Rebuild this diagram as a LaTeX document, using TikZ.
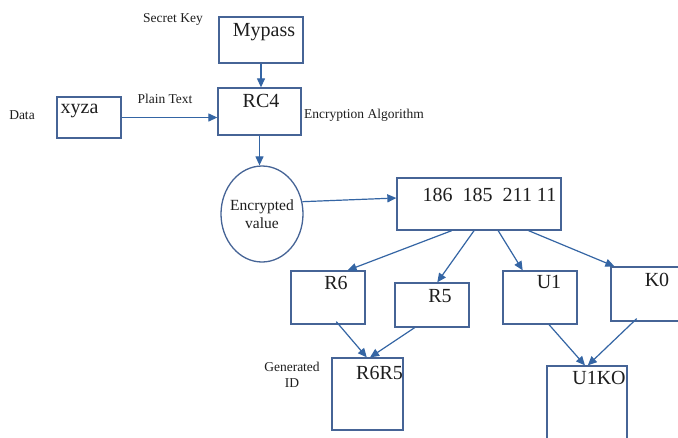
\documentclass[tikz,border=0pt]{standalone}
\usepackage{fontspec}
\setmainfont{Liberation Serif}
\usetikzlibrary{arrows.meta,shapes.geometric,calc}
\definecolor{edgeblue}{RGB}{70,100,150}
\definecolor{arrowblue}{RGB}{52,101,164}
\definecolor{inkgrey}{RGB}{30,30,30}
\begin{document}
\begin{tikzpicture}[x=1pt,y=-1pt,
  box/.style={draw=edgeblue,line width=1.3pt,inner sep=0pt},
  big/.style={text=inkgrey,inner sep=0pt,font=\fontsize{20}{22}\selectfont},
  small/.style={text=inkgrey,inner sep=0pt,align=center,font=\fontsize{13.5}{16}\selectfont},
  arr/.style={draw=arrowblue,line width=1.2pt,-{Triangle[length=9pt,width=8pt]}}]
\clip (0,0) rectangle (678,437);
\fill[white] (0,0) rectangle (678,437);

% boxes
\node[box,minimum width=84pt,minimum height=46pt] (myp) at (261,40) {};
\node[box,minimum width=83pt,minimum height=47pt] (rc4) at (259.5,111.5) {};
\node[box,minimum width=64pt,minimum height=41pt] (xy) at (89,117.5) {};
\node[box,ellipse,minimum width=82pt,minimum height=96pt] (enc) at (262,214) {};
\node[box,minimum width=164pt,minimum height=52pt] (num) at (479,204) {};
\node[box,minimum width=74pt,minimum height=53pt] (r6) at (328,297.5) {};
\node[box,minimum width=74pt,minimum height=44pt] (r5) at (432,305) {};
\node[box,minimum width=74pt,minimum height=53pt] (u1) at (540,297.5) {};
\node[box,minimum width=74pt,minimum height=54pt] (k0) at (648,294) {};
\node[box,minimum width=71pt,minimum height=72pt] (rr) at (367.5,394) {};
\node[box,minimum width=80pt,minimum height=84pt] (uk) at (587,408) {};

% texts inside the boxes
\node[big] (mypt) at (264,32) {Mypass};
\node[big] (rc4t) at (261,101) {RC4};
\node[big] (xyt) at (79.5,111) {xyza};
\node[small,font=\fontsize{15.5}{18}\selectfont] (enct) at (enc.center) {Encrypted\\value};
\node[big] (numt) at (489.5,195) {186\ \ 185\ \ 211 11};
\node[big] (r6t) at (336,283) {R6};
\node[big] (r5t) at (440,296) {R5};
\node[big] (u1t) at (549,282) {U1};
\node[big] (k0t) at (657,280) {K0};
\node[big] (rrt) at (379.5,373) {R6R5};
\node[big] (ukt) at (599,378) {U1KO};

% side labels
\node[small] (seckey) at (173,19) {Secret Key};
\node[small] (plain) at (165,99) {Plain Text};
\node[small] (data) at (22,115) {Data};
\node[small,anchor=west] (algo) at (304,115) {Encryption Algorithm};
\node[small] (genid) at (292,375) {Generated\\ID};

% connectors
\draw[arr] (myp.south) -- (myp.south |- rc4.north);
\draw[arr] (xy.east) -- (xy.east -| rc4.west);
\draw[arr] (rc4.south) -- (rc4.south |- enc.north);
\draw[arr] (enc.17) -- ($(num.west)+(0,-6)$);
\draw[arr] ($(num.south west)!0.335!(num.south east)$) -- ($(r6.north west)!0.76!(r6.north east)$);
\draw[arr] ($(num.south west)!0.47!(num.south east)$) -- ($(r5.north west)!0.57!(r5.north east)$);
\draw[arr] ($(num.south west)!0.616!(num.south east)$) -- ($(u1.north west)!0.27!(u1.north east)$);
\draw[arr] ($(num.south west)!0.80!(num.south east)$) -- ($(k0.north west)!0.054!(k0.north east)$);
\draw[arr] ($(r6.south west)!0.61!(r6.south east)+(0,-3)$) -- ($(rr.north west)!0.49!(rr.north east)$);
\draw[arr] ($(r5.south west)!0.27!(r5.south east)$) -- ($(rr.north west)!0.535!(rr.north east)$);
\draw[arr] ($(u1.south west)!0.62!(u1.south east)$) -- ($(uk.north west)!0.475!(uk.north east)$);
\draw[arr] ($(k0.south west)!0.35!(k0.south east)+(0,-3)$) -- ($(uk.north west)!0.51!(uk.north east)$);
\end{tikzpicture}
\end{document}
